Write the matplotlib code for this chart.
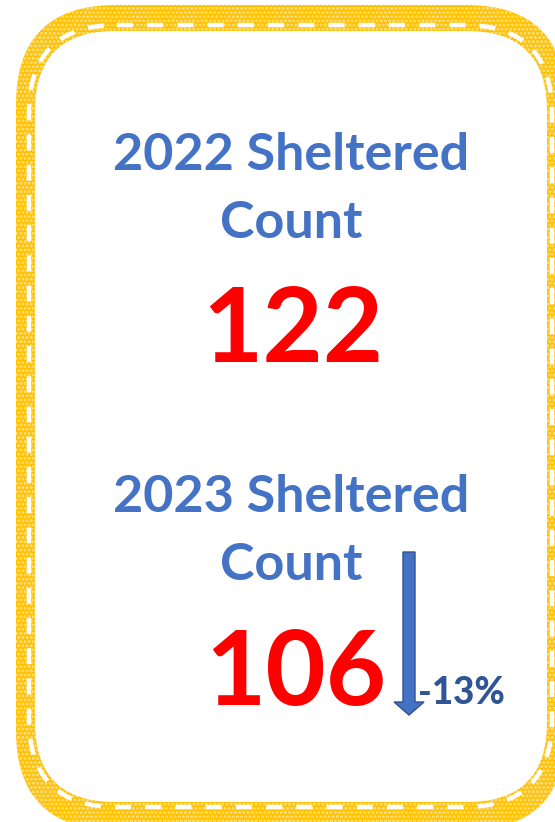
import matplotlib
matplotlib.use("Agg")
import matplotlib.pyplot as plt
from matplotlib.patches import FancyBboxPatch, FancyArrow

# data
years = ["2022", "2023"]
counts = [122, 106]
line1 = "Sheltered"
line2 = "Count"

pct = round((counts[1] - counts[0]) / counts[0] * 100)

plt.rcParams['font.family'] = ['Lato', 'DejaVu Sans']
plt.rcParams['hatch.linewidth'] = 1.5

blue = '#4472C4'
red = '#FF0000'
dark_blue = '#2F5597'

fig = plt.figure(figsize=(5.55, 8.22), dpi=100)
ax = fig.add_axes([0, 0, 1, 1])
ax.set_xlim(0, 555)
ax.set_ylim(822, 0)
ax.axis('off')

# card border: yellow dotted band, white inside, dashed white line
outer = FancyBboxPatch((16, 5), 550, 825, boxstyle="round,pad=0,rounding_size=100",
                       facecolor='#FFC000', edgecolor='#FFE38A', linewidth=0, hatch='....')
ax.add_patch(outer)
inner = FancyBboxPatch((35, 31), 512, 771, boxstyle="round,pad=0,rounding_size=80",
                       facecolor='white', edgecolor='none')
ax.add_patch(inner)
dashed = FancyBboxPatch((29, 25), 523, 782, boxstyle="round,pad=0,rounding_size=88",
                        facecolor='none', edgecolor='white', linewidth=3.2,
                        linestyle=(0, (3.6, 3.2)))
ax.add_patch(dashed)

# headings and numbers
head_y = [170, 512]
num_y = [362, 705]
num_x = [293, 296]
for i in range(2):
    ax.text(291, head_y[i], years[i] + " " + line1, ha='center', va='baseline',
            fontsize=37.5, fontweight='bold', color=blue)
    ax.text(291, head_y[i] + 68, line2, ha='center', va='baseline',
            fontsize=37.5, fontweight='bold', color=blue)
    ax.text(num_x[i], num_y[i], str(counts[i]), ha='center', va='baseline',
            fontsize=75, fontweight='bold', color=red)

# down arrow with change
arr = FancyArrow(409, 552, 0, 163, width=12, head_width=30, head_length=13,
                 length_includes_head=True, facecolor=blue, edgecolor='#2F528F', linewidth=1)
ax.add_patch(arr)
ax.text(418, 704, f"{pct}%", ha='left', va='baseline', fontsize=26.5,
        fontweight='black', color=dark_blue)

fig.savefig('out.png', dpi=100)
